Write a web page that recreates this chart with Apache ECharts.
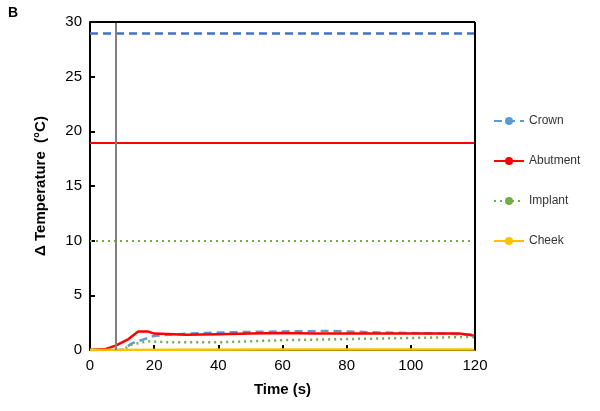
<!DOCTYPE html>
<html><head><meta charset="utf-8">
<script src="https://cdn.jsdelivr.net/npm/echarts@6/dist/echarts.min.js"></script>
<style>html,body{margin:0;padding:0;background:#fff}#c{width:600px;height:411px}</style>
</head><body><div id="c"></div>
<script>
const timeCrown   = [0,10,13,17,20,30,40,50,60,70,75,80,90,100,110,120];
const crown       = [0,0,0.6,1.0,1.3,1.5,1.6,1.65,1.7,1.72,1.75,1.7,1.6,1.55,1.5,1.4];
const timeAbut    = [0,5,8,12,15,18,20,30,40,50,60,70,80,90,100,110,115,120];
const abutment    = [0,0.1,0.4,1.0,1.7,1.7,1.5,1.4,1.45,1.5,1.55,1.5,1.5,1.5,1.5,1.5,1.5,1.3];
const timeImpl    = [0,10,13,18,25,40,60,80,100,120];
const implant     = [0,0,0.5,0.8,0.7,0.7,0.9,1.0,1.1,1.2];
const timeCheek   = [0,30,60,90,120];
const cheek       = [0,0.03,0.05,0.05,0.05];
const limits = {crown:29, abutment:19, implant:10};
const markerTime = 8;
const pair=(t,v)=>t.map((x,i)=>[x,v[i]]);
const chart = echarts.init(document.getElementById('c'));
const lim=(v,c,type,w)=>({silent:true,symbol:'none',label:{show:false},lineStyle:{color:c,type:type,width:w},data:[{yAxis:v}]});
chart.setOption({
  animation:false,
  graphic:[{type:'text',left:8,top:6,style:{text:'B',font:'bold 14px Arial',fill:'#000'}}],
  grid:{left:90,right:125,top:22,bottom:61},
  legend:{orient:'vertical',left:488,top:110,itemGap:28,itemWidth:30,itemHeight:10,
    textStyle:{fontFamily:'Arial',fontSize:12,color:'#333'},
    data:['Crown','Abutment','Implant','Cheek']},
  xAxis:{type:'value',min:0,max:120,interval:20,
    name:'Time (s)',nameLocation:'middle',nameGap:32,
    nameTextStyle:{fontFamily:'Arial',fontWeight:'bold',fontSize:15,color:'#000'},
    axisLine:{lineStyle:{color:'#000',width:2}},axisTick:{inside:true,lineStyle:{color:'#000',width:2}},
    axisLabel:{fontFamily:'Arial',fontSize:15,color:'#000'},splitLine:{show:false}},
  yAxis:{type:'value',min:0,max:30,interval:5,
    name:'Δ Temperature  (°C)',nameLocation:'middle',nameGap:42,
    nameTextStyle:{fontFamily:'Arial',fontWeight:'bold',fontSize:15,color:'#000'},
    axisLine:{show:true,lineStyle:{color:'#000',width:2}},axisTick:{show:true,inside:true,lineStyle:{color:'#000',width:2}},
    axisLabel:{fontFamily:'Arial',fontSize:15,color:'#000'},splitLine:{show:false}},
  series:[
    {name:'Crown',type:'line',symbol:'none',data:pair(timeCrown,crown),
     lineStyle:{color:'#5b9bd5',type:[8,5],width:2.5},itemStyle:{color:'#5b9bd5'},
     markLine:lim(limits.crown,'#4472c4',[8,5],2.5)},
    {name:'Abutment',type:'line',symbol:'none',data:pair(timeAbut,abutment),
     lineStyle:{color:'#ff0000',width:2.5},itemStyle:{color:'#ff0000'},
     markLine:lim(limits.abutment,'#ff0000','solid',2)},
    {name:'Implant',type:'line',symbol:'none',data:pair(timeImpl,implant),
     lineStyle:{color:'#70ad47',type:[2,4],width:2.5},itemStyle:{color:'#70ad47'},
     markLine:lim(limits.implant,'#70ad47',[2,4],2)},
    {name:'Cheek',type:'line',symbol:'none',data:pair(timeCheek,cheek),
     lineStyle:{color:'#ffc000',width:2.5},itemStyle:{color:'#ffc000'},
     markLine:{silent:true,symbol:'none',label:{show:false},lineStyle:{color:'#808080',type:'solid',width:2},data:[{xAxis:markerTime}]}},
    {type:'line',data:[],markLine:{silent:true,symbol:'none',label:{show:false},lineStyle:{color:'#000',type:'solid',width:2},data:[{xAxis:120},{yAxis:30}]}}
  ]
});
</script></body></html>
